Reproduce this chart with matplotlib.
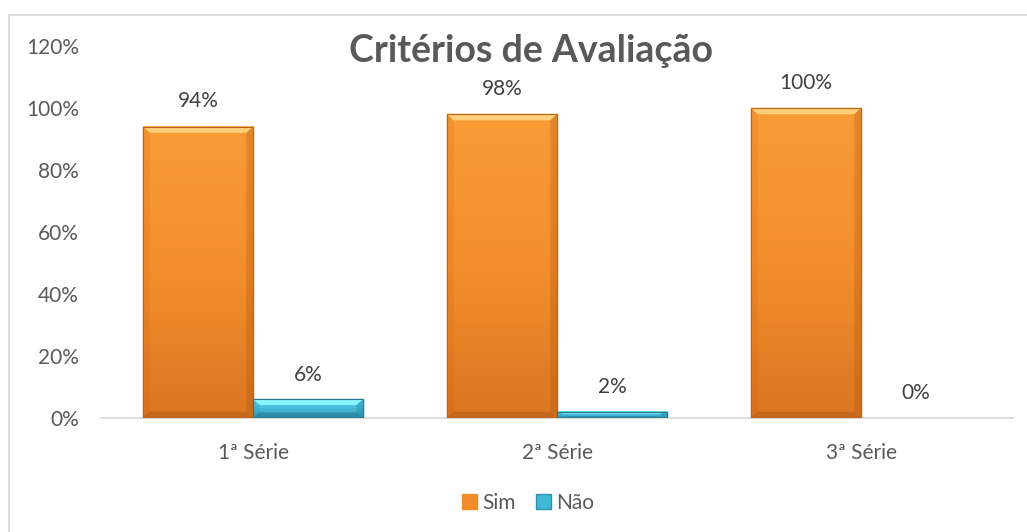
import matplotlib
matplotlib.use("Agg")
import matplotlib.pyplot as plt
import numpy as np
from matplotlib.patches import Polygon, Rectangle
from matplotlib.colors import LinearSegmentedColormap

plt.rcParams['font.family'] = ['Lato', 'DejaVu Sans']

# dados
categorias = ['1ª Série', '2ª Série', '3ª Série']
sim = [0.94, 0.98, 1.00]
nao = [0.06, 0.02, 0.00]
rotulos_y = ['0%', '20%', '40%', '60%', '80%', '100%', '120%']

fig = plt.figure(figsize=(10.27, 5.32), dpi=100)
# moldura do gráfico
fig.patches.append(Rectangle((8.5 / 1027, -0.1), 1.2, (532 - 14.5) / 532 + 0.1,
                             transform=fig.transFigure, fill=False,
                             edgecolor='#d9d9d9', linewidth=1.3))

ax = fig.add_axes([101 / 1027, 114 / 532, 912 / 1027, 372 / 532])
x = np.arange(len(categorias))
w = 0.362

b1 = ax.bar(x - w / 2, sim, w, color='#F28C28', edgecolor='#F28C28',
            label='Sim', zorder=2)
b2 = ax.bar(x + w / 2, nao, w, color='#3FB8D4', edgecolor='#2A8FAA',
            label='Não', zorder=2)


def bevel(patch, top, mid, bot, light, dark, edge):
    x0, w0, h = patch.get_x(), patch.get_width(), patch.get_height()
    if h <= 0:
        return
    cmap = LinearSegmentedColormap.from_list('g', [bot, mid, top])
    grad = np.linspace(0, 1, 100).reshape(-1, 1)
    ax.imshow(grad, extent=[x0, x0 + w0, 0, h], origin='lower', cmap=cmap,
              aspect='auto', zorder=3)
    dx = 0.022
    dy = min(0.02, h * 0.3)
    x1 = x0 + w0
    ax.add_patch(Polygon([(x0, h), (x1, h), (x1 - dx, h - dy), (x0 + dx, h - dy)],
                         closed=True, color=light, zorder=4, linewidth=0))
    ax.add_patch(Polygon([(x0, 0), (x1, 0), (x1 - dx, dy), (x0 + dx, dy)],
                         closed=True, color=dark, zorder=4, linewidth=0, alpha=0.45))
    ax.add_patch(Polygon([(x0, 0), (x0, h), (x0 + dx, h - dy), (x0 + dx, dy)],
                         closed=True, color=dark, zorder=4, linewidth=0, alpha=0.12))
    ax.add_patch(Polygon([(x1, 0), (x1, h), (x1 - dx, h - dy), (x1 - dx, dy)],
                         closed=True, color=dark, zorder=4, linewidth=0, alpha=0.3))
    ax.add_patch(Rectangle((x0, 0), w0, h, fill=False, edgecolor=edge,
                           linewidth=0.8, zorder=5))


for p in b1:
    bevel(p, '#FA9C36', '#F48E2C', '#DC7621', '#FFCF7A', '#A85512', '#B9641C')
for p in b2:
    bevel(p, '#5CD6EC', '#45BCD8', '#3398B6', '#8AF4FF', '#1F6F88', '#25788F')

for xi, v in zip(x, sim):
    ax.text(xi - w / 2, v + 0.082, f'{v:.0%}', ha='center', va='center',
            fontsize=15, color='#404040')
for xi, v in zip(x, nao):
    ax.text(xi + w / 2, v + 0.08, f'{v:.0%}', ha='center', va='center',
            fontsize=15, color='#404040')

ax.set_xlim(-0.5, 2.5)
ax.set_ylim(0, 1.2)
ax.set_yticks(np.arange(0, 1.21, 0.2))
ax.set_yticklabels(rotulos_y)
ax.set_xticks(x)
ax.set_xticklabels(categorias)
ax.tick_params(axis='both', length=0, labelsize=15, labelcolor='#595959')
ax.tick_params(axis='y', pad=16)
ax.tick_params(axis='x', pad=18)
for s in ['top', 'right', 'left']:
    ax.spines[s].set_visible(False)
ax.spines['bottom'].set_color('#d9d9d9')
ax.spines['bottom'].set_linewidth(1.3)

fig.text(531 / 1027, 1 - 51 / 532, 'Critérios de Avaliação', ha='center', va='center',
         fontsize=27, fontweight='bold', color='#595959')

leg = ax.legend(loc='center', bbox_to_anchor=(528 / 1027, 1 - 503 / 532),
                bbox_transform=fig.transFigure, ncol=2, frameon=False,
                fontsize=15, handlelength=0.7, handleheight=0.7,
                handletextpad=0.25, columnspacing=1.0)
for t in leg.get_texts():
    t.set_color('#595959')

fig.savefig('out.png', dpi=100)
